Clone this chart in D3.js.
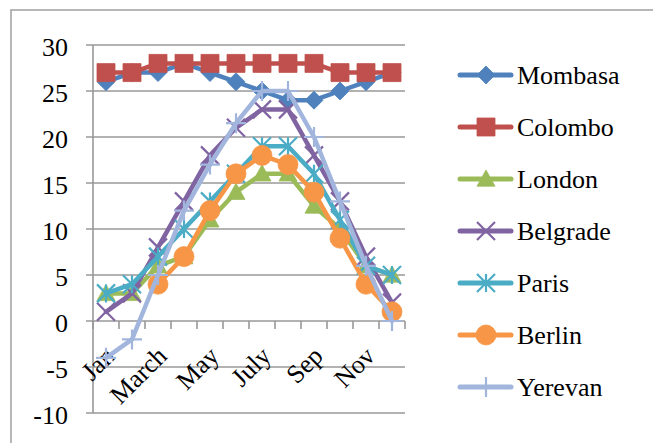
<!DOCTYPE html>
<html><head><meta charset="utf-8">
<script src="https://cdn.jsdelivr.net/npm/d3@7"></script>
<style>html,body{margin:0;padding:0;background:#fff;}svg{display:block;}</style>
</head><body>
<script>
const months = ["Jan","Feb","March","April","May","June","July","Aug","Sep","Oct","Nov","Dec"];
const shownLabels = ["Jan","March","May","July","Sep","Nov"];
const yTicks = [-10,-5,0,5,10,15,20,25,30];
const seriesNames = ["Mombasa","Colombo","London","Belgrade","Paris","Berlin","Yerevan"];
const mombasa  = [26,27,27,28,27,26,25,24,24,25,26,27];
const colombo  = [27,27,28,28,28,28,28,28,28,27,27,27];
const london   = [3,3,6,7,11,14,16,16,12.5,10,6,5];
const belgrade = [1,3,8,13,18,21,23,23,18,13,7,2];
const paris    = [3,4,7,10,13,16,19,19,16,11,6,5];
const berlin   = [null,null,4,7,12,16,18,17,14,9,4,1];
const yerevan  = [-4,-2,5,12,17,21.5,25,25,20,13,6,0];
const seriesValues = [mombasa,colombo,london,belgrade,paris,berlin,yerevan];
const colors = ["#4F81BD","#C0504D","#9BBB59","#8064A2","#4BACC6","#F79646","#A2B6DD"];
const markers = ["diamond","square","triangle","x","asterisk","circle","plus"];

const W=653,H=443;
const svg=d3.select("body").append("svg").attr("width",W).attr("height",H);
svg.append("rect").attr("x",11).attr("y",10).attr("width",700).attr("height",500)
  .attr("fill","none").attr("stroke","#a0a0a0").attr("stroke-width",1.5);

const x=d3.scaleBand().domain(months).range([93,405]);
const y=d3.scaleLinear().domain([-10,30]).range([413,45]);
const font="Liberation Serif";
const gridCol="#999";

svg.append("g").selectAll("line").data(yTicks).join("line")
  .attr("x1",86).attr("x2",405).attr("y1",d=>y(d)).attr("y2",d=>y(d))
  .attr("stroke",gridCol).attr("stroke-width",1.6);
svg.append("line").attr("x1",93).attr("x2",93).attr("y1",y(30)).attr("y2",y(-10))
  .attr("stroke",gridCol).attr("stroke-width",1.6);
svg.append("g").selectAll("text").data(yTicks).join("text")
  .attr("x",68).attr("y",d=>y(d)).attr("dy","0.42em").attr("text-anchor","end")
  .style("font-family",font).attr("font-size",26).attr("fill","#000").text(d=>d);
const tickX=months.map(m=>x(m)).concat([x(months[11])+x.bandwidth()]);
svg.append("g").selectAll("line").data(tickX).join("line")
  .attr("x1",d=>d).attr("x2",d=>d).attr("y1",y(0)).attr("y2",y(0)+8)
  .attr("stroke",gridCol).attr("stroke-width",1.6);
svg.append("g").selectAll("text").data(shownLabels).join("text")
  .attr("transform",d=>`translate(${x(d)+x.bandwidth()/2+4},${y(0)+30}) rotate(-45)`)
  .attr("text-anchor","end").attr("dy","0.35em")
  .style("font-family",font).attr("font-size",26).attr("fill","#000").text(d=>d);

function markerPath(type){
  const s=9;
  switch(type){
    case "diamond": return `M0,${-s}L${s},0L0,${s}L${-s},0Z`;
    case "square": return `M${-s},${-s}H${s}V${s}H${-s}Z`;
    case "triangle": return `M0,${-s}L${s},${s*0.8}L${-s},${s*0.8}Z`;
    case "circle": return d3.symbol(d3.symbolCircle, Math.PI*10*10)();
    case "x": return `M${-s},${-s}L${s},${s}M${-s},${s}L${s},${-s}`;
    case "plus": return `M${-s-1},0H${s+1}M0,${-s-1}V${s+1}`;
    case "asterisk": return `M${-s},${-s}L${s},${s}M${-s},${s}L${s},${-s}M0,${-s}V${s}`;
  }
}
const stroked=t=>t==="x"||t==="plus"||t==="asterisk";

const line=d3.line().defined(d=>d.v!==null).x(d=>x(d.m)+x.bandwidth()/2).y(d=>y(d.v));
seriesNames.forEach((name,i)=>{
  const data=months.map((m,j)=>({m,v:seriesValues[i][j]}));
  const g=svg.append("g");
  g.append("path").datum(data).attr("d",line).attr("fill","none")
    .attr("stroke",colors[i]).attr("stroke-width",4.5)
    .attr("stroke-linejoin","round").attr("stroke-linecap","round");
  g.selectAll("path.mk").data(data.filter(d=>d.v!==null)).join("path").attr("class","mk")
    .attr("transform",d=>`translate(${x(d.m)+x.bandwidth()/2},${y(d.v)})`)
    .attr("d",markerPath(markers[i]))
    .attr("fill",stroked(markers[i])?"none":colors[i])
    .attr("stroke",colors[i]).attr("stroke-width",stroked(markers[i])?2.2:0.8);
});

const leg=svg.append("g").selectAll("g").data(seriesNames).join("g")
  .attr("transform",(d,i)=>`translate(0,${75+i*52})`);
leg.append("line").attr("x1",460).attr("x2",511).attr("y1",0).attr("y2",0)
  .attr("stroke",(d,i)=>colors[i]).attr("stroke-width",5).attr("stroke-linecap","round");
leg.append("path").attr("transform","translate(486,0)")
  .attr("d",(d,i)=>markerPath(markers[i]))
  .attr("fill",(d,i)=>stroked(markers[i])?"none":colors[i])
  .attr("stroke",(d,i)=>colors[i]).attr("stroke-width",(d,i)=>stroked(markers[i])?2.2:0.8);
leg.append("text").attr("x",517).attr("y",0).attr("dy","0.33em")
  .style("font-family",font).attr("font-size",26).attr("fill","#000").text(d=>d);
</script>
</body></html>
